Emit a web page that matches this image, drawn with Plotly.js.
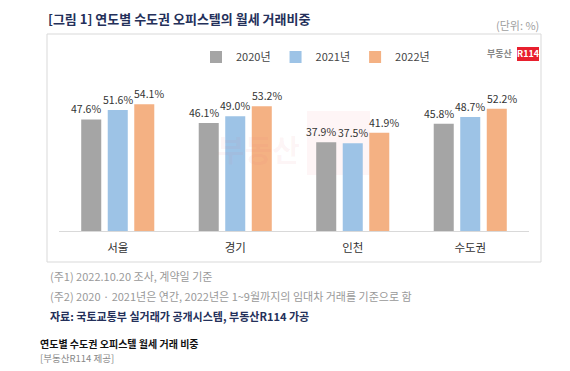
<!DOCTYPE html>
<html><head><meta charset="utf-8">
<script src="https://cdn.plot.ly/plotly-3.0.1.min.js"></script>
<style>html,body{margin:0;padding:0;background:#fff}#c{width:570px;height:371px}</style>
</head><body><div id="c"></div>
<script>
const categories = ['서울', '경기', '인천', '수도권'];
const seriesNames = ['2020년', '2021년', '2022년'];
const v2020 = [47.6, 46.1, 37.9, 45.8];
const v2021 = [51.6, 49.0, 37.5, 48.7];
const v2022 = [54.1, 53.2, 41.9, 52.2];
const colors = ['#a5a5a5', '#9dc3e6', '#f4b183'];

const W = 570, H = 371;
const L = 59, R = 529, T = 67, B = 231;
const px = x => (x - L) / (R - L);
const py = y => (B - y) / (B - T);
const KR = '"Noto Sans CJK KR", "Noto Sans", sans-serif';

const series = [v2020, v2021, v2022];
const traces = series.map((vals, i) => ({
  type: 'bar', x: categories, y: vals, name: seriesNames[i],
  marker: {color: colors[i]},
  hoverinfo: 'none'
}));

const shapes = [
  {type: 'rect', xref: 'paper', yref: 'paper', x0: px(47), x1: px(541), y0: py(262), y1: py(34),
   line: {color: '#d9d9d9', width: 1}, fillcolor: 'rgba(0,0,0,0)', layer: 'below'},
  {type: 'rect', xref: 'paper', yref: 'paper', x0: px(307), x1: px(370), y0: py(175), y1: py(111),
   line: {width: 0}, fillcolor: 'rgba(240,90,100,0.06)', layer: 'below'},
  {type: 'rect', xref: 'paper', yref: 'paper', x0: px(517), x1: px(539), y0: py(61), y1: py(47),
   line: {width: 0}, fillcolor: '#e8202e'}
];

const ann = (x, y, text, opts = {}) => Object.assign({
  xref: 'paper', yref: 'paper', x: px(x), y: py(y), text, showarrow: false,
  xanchor: 'left', yanchor: 'middle', font: {family: KR, size: 11, color: '#999'}
}, opts);

const annotations = [
  ann(46, 19, '[그림 1] 연도별 수도권 오피스텔의 월세 거래비중', {font: {family: KR, size: 13, color: '#24305a', weight: 'bold'}}),
  ann(541, 25, '(단위: %)', {xanchor: 'right', font: {family: KR, size: 11, color: '#a0a0a0'}}),
  ann(515, 54, '부동산', {xanchor: 'right', font: {family: KR, size: 9, color: '#888', weight: 'bold'}}),
  ann(528, 54, 'R114', {xanchor: 'center', font: {family: KR, size: 9, color: '#fff', weight: 'bold'}}),
  ann(258, 148, '부동산', {xanchor: 'center', font: {family: KR, size: 30, color: 'rgba(235,110,120,0.07)', weight: 'bold'}}),
  ann(48, 276, '(주1) 2022.10.20 조사, 계약일 기준'),
  ann(48, 296, '(주2) 2020 · 2021년은 연간, 2022년은 1~9월까지의 임대차 거래를 기준으로 함'),
  ann(48, 316, '자료: 국토교통부 실거래가 공개시스템, 부동산R114 가공', {font: {family: KR, size: 11, color: '#24305a', weight: 'bold'}}),
  ann(38, 343, '연도별 수도권 오피스텔 월세 거래 비중', {font: {family: KR, size: 10, color: '#111', weight: 'bold'}}),
  ann(38, 358, '[부동산R114 제공]', {font: {family: KR, size: 9.5, color: '#888'}})
];

// data labels: one per bar, anchored at the bar's category/value on the axes
const slot = 26.5;            // px between neighbouring bars in a group
const spread = [-5, 0, 5];    // small extra offset so labels don't collide
series.forEach((vals, i) => {
  vals.forEach((v, j) => {
    annotations.push({
      xref: 'x', yref: 'y', x: categories[j], y: v, text: v.toFixed(1) + '%',
      showarrow: false, xanchor: 'center', yanchor: 'bottom',
      xshift: (i - 1) * slot + spread[i], yshift: 1,
      font: {family: KR, size: 10.5, color: '#333'}
    });
  });
});

const layout = {
  width: W, height: H,
  margin: {l: L, r: W - R, t: T, b: H - B, pad: 0},
  paper_bgcolor: '#fff', plot_bgcolor: '#fff',
  barmode: 'group', bargap: 0.323, bargroupgap: 0.245,
  xaxis: {showline: true, linecolor: '#d9d9d9', linewidth: 1, ticks: '', showgrid: false, zeroline: false,
          ticklabelstandoff: 6,
          tickfont: {family: KR, size: 11.5, color: '#333'}, fixedrange: true},
  yaxis: {range: [0, 70], visible: false, showgrid: false, zeroline: false, fixedrange: true},
  showlegend: true,
  legend: {orientation: 'h', x: px(196), y: py(57), xanchor: 'left', yanchor: 'middle',
           font: {family: KR, size: 11, color: '#444'}, itemwidth: 30, tracegroupgap: 0,
           bgcolor: 'rgba(0,0,0,0)', itemclick: false},
  shapes, annotations
};

Plotly.newPlot('c', traces, layout, {staticPlot: true, displayModeBar: false});
</script></body></html>
